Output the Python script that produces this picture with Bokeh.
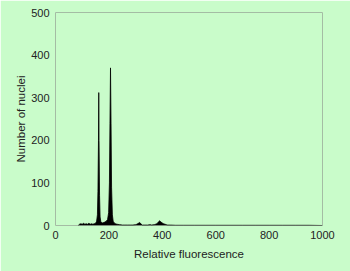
from bokeh.plotting import figure
from bokeh.models import Range1d, FixedTicker
from bokeh.embed import file_html
from bokeh.resources import INLINE

# Fluorescence channel and nuclei counts
channels = [85, 90, 95, 100, 105, 110, 115, 120, 125, 130, 135, 140, 145, 150, 154,
            157, 159, 161, 162, 163, 165, 167, 170, 175, 180, 185, 190, 195, 199,
            202, 204, 206, 208, 210, 213, 216, 220, 225, 230, 240, 250, 260, 270,
            280, 290, 300, 305, 310, 315, 320, 325, 335, 345, 355, 360, 370, 380,
            385, 390, 395, 400, 405, 410, 415, 420, 430, 450, 480, 520, 560, 600,
            650, 700, 750, 800, 850, 900, 950, 1000]
counts = [0, 3, 4, 3, 5, 3, 4, 3, 5, 3, 4, 3, 4, 5, 10,
          25, 80, 200, 312, 200, 70, 20, 8, 6, 7, 8, 10, 14, 30,
          100, 240, 370, 240, 90, 25, 10, 6, 4, 3, 2, 1, 1, 1,
          1, 1, 2, 3, 5, 7, 4, 1, 1, 1, 2, 1, 2, 4,
          8, 11, 8, 6, 4, 3, 2, 1, 1, 0.5, 0.5, 0.5, 0.5, 0.5,
          0.5, 0.5, 0.5, 0.5, 0.5, 0.5, 0.5, 0]

x_ticks = [0, 200, 400, 600, 800, 1000]
y_ticks = [0, 100, 200, 300, 400, 500]

BG = "#c9fcca"
FONT = "Liberation Sans"

p = figure(width=350, height=271, output_backend="svg", toolbar_location=None,
           x_range=Range1d(0, 1000), y_range=Range1d(0, 500),
           min_border_left=55, min_border_right=28, min_border_top=12, min_border_bottom=46)

p.background_fill_color = BG
p.border_fill_color = BG
p.outline_line_color = "#a4bca4"
p.outline_line_width = 1
p.xgrid.visible = False
p.ygrid.visible = False

p.varea(x=channels, y1=0, y2=counts, fill_color="black")
p.line(x=channels, y=counts, line_color="black", line_width=0.8)

for ax in (p.xaxis[0], p.yaxis[0]):
    ax.axis_line_color = None
    ax.major_tick_line_color = None
    ax.minor_tick_line_color = None
    ax.major_tick_out = 0
    ax.major_tick_in = 0
    ax.major_label_text_font = FONT
    ax.major_label_text_font_size = "11px"
    ax.major_label_text_color = "#222222"
    ax.axis_label_text_font = FONT
    ax.axis_label_text_font_size = "11.5px"
    ax.axis_label_text_font_style = "normal"
    ax.axis_label_text_color = "#222222"

p.xaxis.ticker = FixedTicker(ticks=x_ticks)
p.yaxis.ticker = FixedTicker(ticks=y_ticks)
p.xaxis.axis_label = "Relative fluorescence"
p.yaxis.axis_label = "Number of nuclei"
p.xaxis.major_label_standoff = 5
p.yaxis.major_label_standoff = 6
p.xaxis.axis_label_standoff = 6
p.yaxis.axis_label_standoff = 1

open("out.html", "w").write(file_html(p, INLINE))
